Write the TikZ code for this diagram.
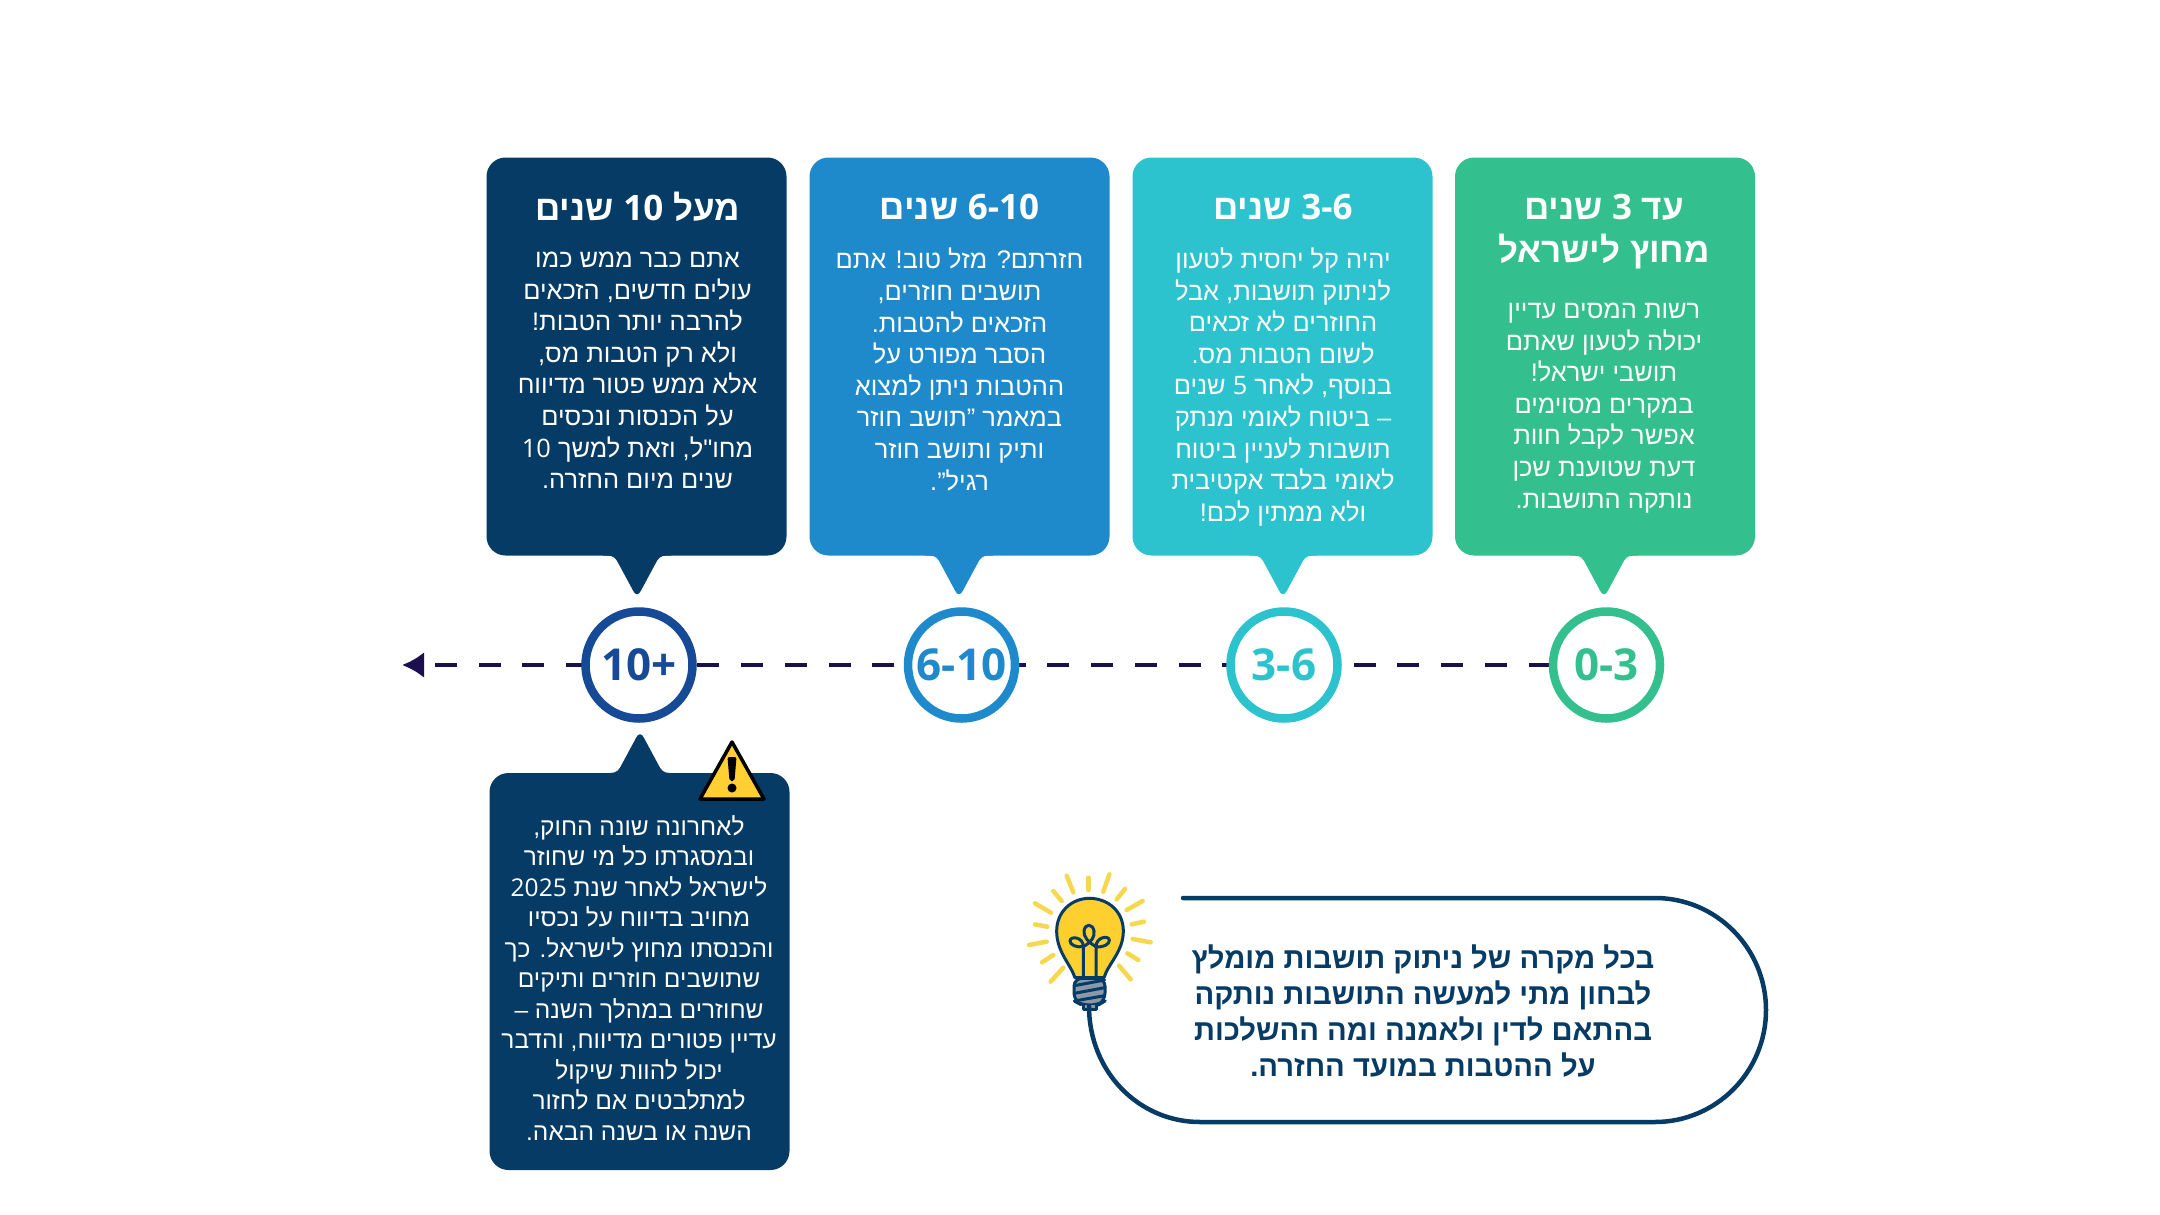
\documentclass[tikz,border=0pt]{standalone}
\usepackage{fontspec}
\usetikzlibrary{arrows.meta,backgrounds}
\TeXXeTstate=1
\newfontfamily\heb[Script=Hebrew]{Liberation Sans}
\newfontfamily\lat{Open Sans}
\newcommand\rl[1]{\beginR #1\endR}
\newcommand\ltr[1]{\beginL{\lat #1}\endL{}}
\definecolor{cdark}{HTML}{053B64}
\definecolor{cblue}{HTML}{1F8ACB}
\definecolor{cteal}{HTML}{2CC3CE}
\definecolor{cgreen}{HTML}{34BF8E}
\definecolor{cring}{HTML}{174A96}
\definecolor{cline}{HTML}{1B0F4F}
\definecolor{cbulb}{HTML}{FDD02F}
\definecolor{cray}{HTML}{F6D84E}
\definecolor{cwarn}{HTML}{FFCF33}
\definecolor{cscrew}{HTML}{8A98A8}
\tikzset{
  bubble/.style={rectangle,rounded corners=19pt,fill=#1,minimum width=300pt,inner sep=0pt},
  title/.style={text=white,align=center,inner sep=0pt,font=\heb\bfseries\fontsize{35}{43}\selectfont},
  body/.style={text=white,align=center,inner sep=0pt,font=\heb\fontsize{25.4}{31.6}\selectfont},
  lowbody/.style={text=white,align=center,inner sep=0pt,font=\heb\fontsize{24.5}{30.5}\selectfont},
  tipnote/.style={text=cdark,align=center,inner sep=0pt,font=\heb\bfseries\fontsize{29.2}{36.3}\selectfont},
  ring/.style={circle,draw=#1,line width=8.5pt,fill=white,minimum size=107pt,inner sep=0pt,text=#1,font=\lat\bfseries\fontsize{44}{50}\selectfont},
  dashline/.style={draw=cline,line width=4pt,dash pattern=on 22pt off 21.74pt,dash phase=31.48pt},
  rayline/.style={draw=cray,line width=4.5pt,line cap=round},
  bulbline/.style={draw=cdark,line width=3pt,line cap=round,line join=round},
}
\newcommand\bubtail[4]{%
  \fill[#4,shift={(#1,#2)},yscale=#3] (-34,-3) -- (-34,0) -- (-30,0) .. controls (-23,0) and (-21,3) .. (-18,9)
    -- (-4,35) .. controls (-2,40) and (2,40) .. (4,35) -- (18,9) .. controls (21,3) and (23,0) .. (30,0) -- (34,0) -- (34,-3) -- cycle;}
\begin{document}
\begin{tikzpicture}[x=1pt,y=-1pt]
\useasboundingbox (0,0) rectangle (2160,1215);
% bubbles
\node[bubble=cdark,minimum height=398pt] (b10) at (636.5,356.5) {};
\node[bubble=cblue,minimum height=398pt] (b610) at (959.5,356.5) {};
\node[bubble=cteal,minimum height=398pt] (b36) at (1282.5,356.5) {};
\node[bubble=cgreen,minimum height=398pt] (b03) at (1605,356.5) {};
\node[bubble=cdark,minimum height=397pt] (blow) at (639.5,971.5) {};
\bubtail{637}{555.5}{1}{cdark}
\bubtail{959}{555.5}{1}{cblue}
\bubtail{1283}{555.5}{1}{cteal}
\bubtail{1604}{555.5}{1}{cgreen}
\bubtail{640}{773}{-1}{cdark}
% titles
\node[title] (t10) at (637.5,207) {\rl{מעל \ltr{10} שנים}};
\node[title] (t610) at (959.5,207) {\rl{\ltr{6-10} שנים}};
\node[title] (t36) at (1283,207) {\rl{\ltr{3-6} שנים}};
\node[title] (t03) at (1604,232) {\rl{עד \ltr{3} שנים}\\\rl{מחוץ לישראל}};
% bodies
\node[body] (x10) at (637.5,370.5) {\rl{אתם כבר ממש כמו}\\\rl{עולים חדשים, הזכאים}\\\rl{להרבה יותר הטבות!}\\\rl{ולא רק הטבות מס,}\\\rl{אלא ממש פטור מדיווח}\\\rl{על הכנסות ונכסים}\\\rl{מחו"ל, וזאת למשך \ltr{10}}\\\rl{שנים מיום החזרה.}};
\node[body] (x610) at (959.5,369.5) {\rl{חזרתם? מזל טוב! אתם}\\\rl{תושבים חוזרים,}\\\rl{הזכאים להטבות.}\\\rl{הסבר מפורט על}\\\rl{ההטבות ניתן למצוא}\\\rl{במאמר ”תושב חוזר}\\\rl{ותיק ותושב חוזר}\\\rl{רגיל”.}};
\node[body] (x36) at (1283,387) {\rl{יהיה קל יחסית לטעון}\\\rl{לניתוק תושבות, אבל}\\\rl{החוזרים לא זכאים}\\\rl{לשום הטבות מס.}\\\rl{בנוסף, לאחר \ltr{5} שנים}\\\rl{– ביטוח לאומי מנתק}\\\rl{תושבות לעניין ביטוח}\\\rl{לאומי בלבד אקטיבית}\\\rl{ולא ממתין לכם!}};
\node[body] (x03) at (1604,408) {\rl{רשות המסים עדיין}\\\rl{יכולה לטעון שאתם}\\\rl{תושבי ישראל!}\\\rl{במקרים מסוימים}\\\rl{אפשר לקבל חוות}\\\rl{דעת שטוענת שכן}\\\rl{נותקה התושבות.}};
\node[lowbody] (xlow) at (639,978) {\rl{לאחרונה שונה החוק,}\\\rl{ובמסגרתו כל מי שחוזר}\\\rl{לישראל לאחר שנת \ltr{2025}}\\\rl{מחויב בדיווח על נכסיו}\\\rl{והכנסתו מחוץ לישראל. כך}\\\rl{שתושבים חוזרים ותיקים}\\\rl{שחוזרים במהלך השנה –}\\\rl{עדיין פטורים מדיווח, והדבר}\\\rl{יכול להוות שיקול}\\\rl{למתלבטים אם לחזור}\\\rl{השנה או בשנה הבאה.}};
% timeline rings
\node[ring=cring] (c10) at (639,665) {10+};
\node[ring=cblue] (c610) at (961.5,665) {6-10};
\node[ring=cteal] (c36) at (1284,665) {3-6};
\node[ring=cgreen] (c03) at (1606.5,665) {0-3};
\coordinate (tipend) at (402,665);
\begin{scope}[on background layer]
\fill[white] (0,0) rectangle (2160,1215);
\draw[dashline,-{Latex[length=22pt,width=26pt]}] (c03.center) -- (c36.center) -- (c610.center) -- (c10.center) -- (tipend);
\end{scope}
% warning sign
\draw[fill=cwarn,draw=black,line width=3.5pt,line join=round] (732,742) -- (764,799) -- (700,799) -- cycle;
\fill[black,rounded corners=2pt] (727.5,757) -- (736.5,757) -- (734.5,781) -- (729.5,781) -- cycle;
\fill[black] (732,788) circle (4.5pt);
% tip callout
\node[tipnote] (note) at (1423,1011) {\rl{בכל מקרה של ניתוק תושבות מומלץ}\\\rl{לבחון מתי למעשה התושבות נותקה}\\\rl{בהתאם לדין ולאמנה ומה ההשלכות}\\\rl{על ההטבות במועד החזרה.}};
% bulb
\begin{scope}[shift={(1020,865)},x=0.33333pt,y=-0.33333pt]
\foreach \a/\b/\c/\d in {140/32/160/82,205/38/205/75,268/28/250/80,315/72/290/103,368/108/320/135,372/170/335/178,392/232/338/222,355/285/322/265,332/343/297/302,100/78/125/108,45/115/93/143,45/178/82/185,27/240/80/230,66/292/100/270,92/350/130/308}
  \draw[rayline] (\a,\b) -- (\c,\d);
\draw[bulbline,fill=cbulb] (165,338) .. controls (150,295) and (110,260) .. (110,198) .. controls (110,140) and (155,100) .. (208,100) .. controls (265,100) and (310,140) .. (310,198) .. controls (310,260) and (265,295) .. (252,338) -- cycle;
\draw[bulbline,fill=cscrew,rounded corners=8pt] (162,340) -- (255,340) -- (255,408) -- (235,420) -- (185,420) -- (162,408) -- cycle;
\draw[bulbline] (163,362) -- (254,345);
\draw[bulbline] (163,385) -- (254,368);
\draw[bulbline] (163,408) -- (254,392);
\draw[bulbline,fill=cscrew] (190,420) -- (190,432) -- (230,432) -- (230,420);
\draw[bulbline] (190,335) -- (190,245) .. controls (170,248) and (150,240) .. (150,228) .. controls (150,212) and (190,215) .. (190,245);
\draw[bulbline] (228,335) -- (228,245) .. controls (250,248) and (268,238) .. (268,226) .. controls (268,210) and (228,215) .. (228,245);
\draw[bulbline] (190,245) .. controls (215,230) and (225,215) .. (222,198) .. controls (218,175) and (195,175) .. (192,198) .. controls (190,215) and (205,232) .. (228,245);
\end{scope}
% callout outline
\coordinate (lampfoot) at (1089,1006);
\coordinate (linestart) at (1183,898);
\draw[draw=cdark,line width=4.5pt,line cap=round] (linestart) -- (1655,898) .. controls (1716,898) and (1766,948) .. (1766,1010) .. controls (1766,1072) and (1716,1122) .. (1655,1122) -- (1200,1122) .. controls (1139,1122) and (1089,1072) .. (lampfoot);
\end{tikzpicture}
\end{document}
